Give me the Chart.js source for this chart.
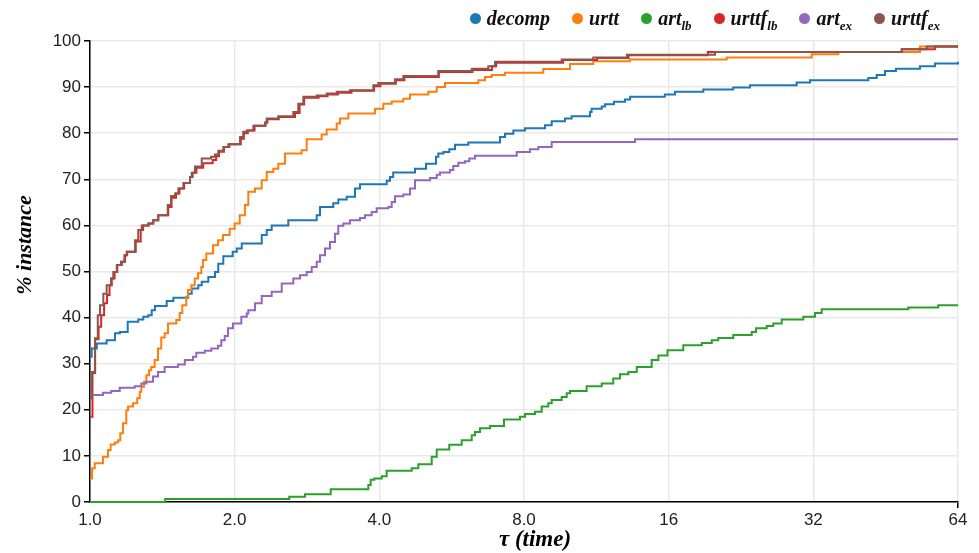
<!DOCTYPE html>
<html>
<head>
<meta charset="utf-8">
<script src="https://cdn.jsdelivr.net/npm/chart.js@4.4.1/dist/chart.umd.min.js"></script>
<style>
  body { margin: 0; background: #fff; }
  #wrap { position: relative; width: 979px; height: 553px; }
  #legend {
    position: absolute; top: 7px; right: 39px;
    display: flex; gap: 22px;
    font: italic bold 20px "Liberation Serif", serif; color: #111;
  }
  .item { display: flex; align-items: center; }
  .dot { width: 11px; height: 11px; border-radius: 50%; margin-right: 6px; }
  .item sub { font-size: 13px; vertical-align: -5px; line-height: 0; }
</style>
</head>
<body>
<div id="wrap">
  <canvas id="profile" width="979" height="553"></canvas>
  <div id="legend"></div>
</div>
<script>
// performance profile: tau (x) vs % of instances solved (y)
const seriesNames = ['decomp', 'urtt', 'art', 'urttf', 'art', 'urttf'];
const seriesSubs  = ['', '', 'lb', 'lb', 'ex', 'ex'];
const colors = ['#1f77b4', '#ff7f0e', '#2ca02c', '#d62728', '#9467bd', '#8c564b'];

const xTicks = [1, 2, 4, 8, 16, 32, 64];
const xTickLabels = ['1.0', '2.0', '4.0', '8.0', '16', '32', '64'];
const xTitle = 'τ (time)';
const yTitle = '% instance';

const decompTau = [1, 1.008, 1.033, 1.083, 1.127, 1.154, 1.198, 1.260, 1.291, 1.322, 1.344, 1.365, 1.444, 1.491, 1.601, 1.628, 1.680, 1.708, 1.763, 1.820, 1.849, 1.894, 1.981, 2.020, 2.069, 2.277, 2.332, 2.388, 2.586, 2.963, 3.010, 3.208, 3.286, 3.421, 3.560, 3.646, 4.144, 4.210, 4.275, 4.745, 5.003, 5.248, 5.306, 5.436, 5.594, 5.748, 6.126, 7.130, 7.304, 7.601, 8.039, 8.846, 9.135, 9.735, 10.05, 10.98, 11.06, 11.61, 11.79, 12.31, 12.98, 13.30, 15.71, 16.49, 18.89, 21.80, 23.62, 29.54, 31.49, 41.64, 43.35, 45.10, 47.54, 53.33, 57.31, 64];
const decompPct = [31.5, 33.3, 34.4, 35.1, 36.6, 36.9, 39.1, 39.6, 40.2, 40.5, 41.6, 42.5, 43.6, 44.3, 45.2, 46.3, 47.0, 47.8, 48.8, 49.9, 51.7, 53.3, 54.3, 55.0, 56.1, 57.9, 59.0, 60.0, 61.1, 62.2, 64.0, 64.8, 65.6, 66.2, 68.0, 68.9, 69.7, 70.5, 71.5, 72.3, 73.4, 74.9, 75.6, 75.9, 76.5, 77.5, 78.0, 79.2, 79.9, 80.6, 81.1, 81.7, 82.6, 83.2, 83.7, 84.6, 85.3, 85.8, 86.3, 86.8, 87.3, 87.9, 88.4, 89.0, 89.5, 89.9, 90.4, 91.0, 91.5, 92.0, 92.6, 93.5, 94.0, 94.5, 95.1, 95.5];

const urttTau = [1, 1.010, 1.023, 1.064, 1.090, 1.104, 1.126, 1.144, 1.156, 1.171, 1.190, 1.200, 1.229, 1.254, 1.269, 1.279, 1.295, 1.310, 1.327, 1.341, 1.363, 1.385, 1.407, 1.430, 1.453, 1.512, 1.537, 1.556, 1.586, 1.599, 1.625, 1.652, 1.678, 1.705, 1.718, 1.746, 1.803, 1.847, 1.891, 1.953, 2.000, 2.049, 2.101, 2.135, 2.205, 2.277, 2.332, 2.407, 2.465, 2.545, 2.757, 2.824, 3.035, 3.108, 3.261, 3.313, 3.448, 3.917, 4.077, 4.244, 4.487, 4.634, 5.058, 5.266, 5.479, 6.427, 6.637, 6.854, 7.304, 8.775, 9.972, 11.15, 13.29, 21.13, 31.75, 36.07, 53.34, 64];
const urttPct = [5.1, 7.3, 8.4, 9.8, 11.3, 12.5, 12.9, 13.4, 14.9, 17.1, 19.9, 20.7, 21.4, 22.5, 23.9, 25.0, 26.1, 27.5, 28.6, 29.3, 30.8, 33.3, 35.7, 36.6, 38.7, 39.5, 41.0, 42.7, 44.5, 46.0, 47.0, 48.5, 49.6, 51.0, 52.5, 53.9, 55.7, 56.8, 57.9, 59.3, 60.4, 62.2, 64.4, 67.3, 68.0, 69.8, 71.6, 72.3, 73.4, 75.6, 76.3, 78.7, 79.7, 80.8, 82.1, 83.2, 84.3, 85.3, 86.4, 86.9, 87.5, 88.4, 89.0, 90.0, 90.9, 91.5, 92.2, 92.6, 93.1, 93.9, 95.0, 95.6, 96.0, 96.4, 97.1, 97.6, 98.8, 98.8];

const artLbTau = [1, 1.434, 2.598, 2.801, 3.169, 3.794, 3.838, 3.905, 4.045, 4.143, 4.671, 4.821, 5.141, 5.266, 5.592, 5.935, 6.227, 6.325, 6.479, 6.797, 7.268, 7.848, 8.039, 8.433, 8.708, 8.988, 9.135, 9.583, 9.815, 9.972, 10.80, 11.61, 12.27, 12.67, 13.19, 13.73, 14.75, 15.23, 15.91, 17.16, 18.75, 19.67, 20.29, 21.81, 23.82, 24.32, 25.59, 26.41, 27.50, 30.50, 32.25, 33.31, 50.44, 58.23, 64];
const artLbPct = [0, 0.65, 1.15, 1.7, 2.75, 3.7, 4.8, 5.1, 5.6, 6.8, 7.3, 8.2, 9.8, 11.4, 12.4, 13.4, 14.5, 15.2, 16.0, 16.5, 17.9, 18.5, 19.1, 19.6, 20.7, 21.4, 22.1, 22.8, 23.6, 24.1, 25.1, 25.7, 26.8, 27.7, 28.2, 29.3, 30.8, 31.8, 32.9, 34.0, 34.5, 35.1, 35.6, 36.2, 36.9, 37.7, 38.2, 38.7, 39.6, 40.2, 41.0, 41.8, 42.2, 42.7, 42.7];

const urttfLbTau = [1, 1.012, 1.025, 1.042, 1.055, 1.070, 1.085, 1.098, 1.110, 1.125, 1.140, 1.165, 1.183, 1.195, 1.245, 1.275, 1.290, 1.325, 1.354, 1.387, 1.455, 1.478, 1.510, 1.535, 1.570, 1.615, 1.635, 1.665, 1.720, 1.800, 1.830, 1.855, 1.900, 1.950, 2.060, 2.090, 2.130, 2.200, 2.320, 2.340, 2.470, 2.670, 2.730, 2.790, 2.990, 3.120, 3.280, 3.500, 3.900, 4.020, 4.330, 4.510, 5.320, 6.250, 6.860, 7.000, 9.650, 11.35, 13.20, 19.30, 48.90, 57.30, 64];
const urttfLbPct = [18.5, 28.0, 35.3, 38.0, 40.5, 43.1, 44.9, 47.0, 48.5, 49.9, 51.4, 52.1, 53.5, 54.3, 56.5, 59.0, 60.0, 60.4, 61.1, 62.2, 64.0, 66.0, 66.9, 68.0, 69.2, 70.5, 71.4, 72.5, 73.5, 74.2, 75.0, 76.0, 77.0, 77.6, 78.8, 80.0, 80.6, 81.6, 82.3, 83.0, 83.5, 84.4, 86.2, 87.7, 88.0, 88.4, 88.8, 89.2, 90.2, 90.7, 91.5, 92.2, 93.3, 93.7, 94.5, 95.3, 95.9, 96.3, 96.9, 97.6, 98.2, 98.8, 98.8];

const artExTau = [1, 1.064, 1.107, 1.153, 1.239, 1.279, 1.310, 1.352, 1.385, 1.430, 1.524, 1.575, 1.638, 1.664, 1.733, 1.788, 1.847, 1.876, 1.907, 1.937, 1.984, 2.065, 2.119, 2.135, 2.205, 2.277, 2.388, 2.506, 2.649, 2.735, 2.824, 2.893, 2.963, 3.010, 3.083, 3.158, 3.235, 3.286, 3.366, 3.475, 3.646, 3.734, 3.856, 3.949, 4.176, 4.244, 4.312, 4.487, 4.634, 4.745, 5.100, 5.266, 5.349, 5.611, 5.701, 5.839, 6.030, 6.156, 6.325, 7.725, 8.233, 8.567, 9.135, 13.62, 64];
const artExPct = [23.2, 23.7, 24.1, 24.8, 25.1, 25.7, 26.1, 27.2, 28.2, 29.3, 29.8, 30.8, 31.5, 32.4, 32.8, 33.3, 33.9, 35.1, 36.0, 37.7, 38.7, 40.2, 40.9, 41.6, 43.1, 44.7, 45.6, 47.4, 48.5, 49.2, 49.9, 51.0, 52.1, 53.5, 55.0, 56.4, 58.2, 59.9, 60.4, 61.1, 61.6, 62.2, 62.9, 63.7, 64.0, 65.1, 66.3, 66.7, 68.0, 69.8, 70.3, 71.0, 71.5, 72.0, 72.9, 73.6, 73.9, 74.5, 75.1, 75.9, 76.5, 77.0, 78.1, 78.7, 78.7];

const urttfExTau = [1, 1.008, 1.024, 1.038, 1.049, 1.066, 1.083, 1.106, 1.118, 1.137, 1.160, 1.179, 1.192, 1.241, 1.260, 1.281, 1.322, 1.354, 1.387, 1.451, 1.474, 1.503, 1.527, 1.564, 1.615, 1.628, 1.654, 1.708, 1.786, 1.820, 1.849, 1.894, 1.940, 2.052, 2.084, 2.119, 2.187, 2.313, 2.332, 2.465, 2.649, 2.713, 2.779, 2.963, 3.108, 3.261, 3.475, 3.886, 3.980, 4.312, 4.487, 5.305, 6.227, 6.743, 6.964, 9.583, 11.15, 13.10, 19.98, 48.87, 55.08, 64];
const urttfExPct = [22.5, 28.2, 35.5, 40.5, 42.7, 45.2, 47.0, 48.5, 49.9, 51.4, 52.1, 53.5, 54.3, 56.8, 59.0, 60.0, 60.4, 61.1, 62.2, 64.4, 66.4, 66.9, 68.0, 69.2, 70.5, 71.4, 72.8, 74.5, 74.9, 75.4, 76.2, 77.0, 77.6, 79.2, 80.3, 80.6, 81.6, 82.3, 83.2, 83.7, 84.6, 86.4, 87.9, 88.2, 88.6, 89.0, 89.3, 90.4, 90.9, 91.7, 92.4, 93.5, 94.0, 94.5, 95.5, 96.0, 96.4, 97.0, 97.6, 98.2, 98.8, 98.8];

const allTau = [decompTau, urttTau, artLbTau, urttfLbTau, artExTau, urttfExTau];
const allPct = [decompPct, urttPct, artLbPct, urttfLbPct, artExPct, urttfExPct];

function toPoints(tau, pct) {
  return tau.map((t, i) => ({ x: t, y: pct[i] }));
}

const datasets = seriesNames.map((name, i) => ({
  label: name + seriesSubs[i],
  data: toPoints(allTau[i], allPct[i]),
  borderColor: colors[i],
  backgroundColor: colors[i],
  borderWidth: 2,
  pointRadius: 0,
  stepped: 'before',
  fill: false,
  clip: 4, // let the 0% line sit over the axis
  order: seriesNames.length - i, // later series on top
}));

// axis titles, placed like the original
const axisTitles = {
  id: 'axisTitles',
  afterDraw(chart) {
    const ctx = chart.ctx;
    ctx.save();
    ctx.font = 'italic bold 23px "Liberation Serif"';
    ctx.fillStyle = '#000';
    ctx.textAlign = 'center';
    ctx.textBaseline = 'middle';
    ctx.fillText(xTitle, 535, 540);
    ctx.font = 'italic bold 22px "Liberation Serif"';
    ctx.translate(25, 245);
    ctx.rotate(-Math.PI / 2);
    ctx.fillText(yTitle, 0, 0);
    ctx.restore();
  }
};

const tickFont = { family: 'Liberation Sans', size: 17 };

new Chart(document.getElementById('profile').getContext('2d'), {
  type: 'line',
  data: { datasets: datasets },
  plugins: [axisTitles],
  options: {
    responsive: false,
    animation: false,
    layout: { padding: { top: 41, right: 21, left: 0, bottom: 0 } },
    plugins: {
      legend: { display: false },
      tooltip: { enabled: false },
    },
    scales: {
      x: {
        type: 'logarithmic',
        min: 1,
        max: 64,
        afterBuildTicks: (s) => { s.ticks = xTicks.map(v => ({ value: v })); },
        afterFit: (s) => { s.height = 51; },
        ticks: {
          callback: (value, index) => xTickLabels[index],
          font: tickFont,
          color: '#222',
          maxRotation: 0,
          autoSkip: false,
          padding: 2,
        },
        grid: {
          color: '#e9e9e9',
          lineWidth: 1.5,
          tickLength: 6,
          tickColor: (c) => c.index === xTicks.length - 1 ? '#000' : 'rgba(0,0,0,0)',
        },
        border: { color: '#000', width: 1.5 },
      },
      y: {
        min: 0,
        max: 100,
        afterFit: (s) => { s.width = 90; },
        ticks: {
          stepSize: 10,
          font: tickFont,
          color: '#222',
          padding: 3,
        },
        grid: {
          color: '#e9e9e9',
          lineWidth: 1.5,
          tickLength: 6,
          tickColor: '#000',
        },
        border: { color: '#000', width: 1.5 },
      },
    },
  },
});

// legend with subscripts
const legend = document.getElementById('legend');
seriesNames.forEach((name, i) => {
  const item = document.createElement('div');
  item.className = 'item';
  const dot = document.createElement('span');
  dot.className = 'dot';
  dot.style.background = colors[i];
  const txt = document.createElement('span');
  txt.textContent = name;
  if (seriesSubs[i]) {
    const sub = document.createElement('sub');
    sub.textContent = seriesSubs[i];
    txt.appendChild(sub);
  }
  item.appendChild(dot);
  item.appendChild(txt);
  legend.appendChild(item);
});
</script>
</body>
</html>
